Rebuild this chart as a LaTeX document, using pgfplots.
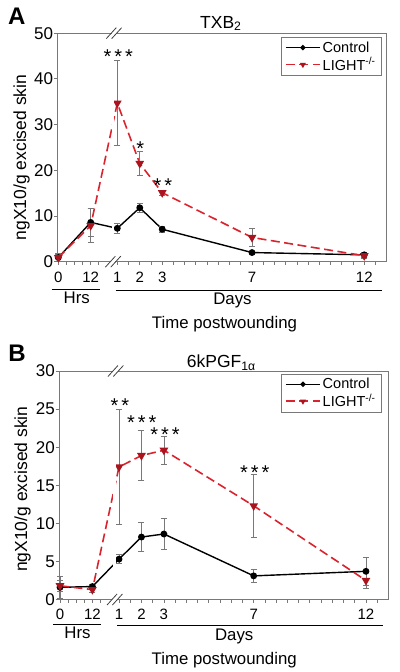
\documentclass[border=0pt]{standalone}
\usepackage{fontspec}
\setmainfont{Liberation Sans}
\usepackage{pgfplots}
\pgfplotsset{compat=1.18}
\definecolor{lred}{RGB}{218,35,45}
\definecolor{dred}{RGB}{170,20,30}
\definecolor{axgray}{RGB}{120,120,120}
\definecolor{ebgray}{RGB}{120,120,120}
\newcommand\fs[1]{\fontsize{#1bp}{#1bp}\selectfont}
\tikzset{slash/.style={black!75, line width=0.8bp}}
\pgfplotsset{
 panel/.style={
  scale only axis, width=329.4bp, height=228.5bp,
  xmin=-1.673, xmax=13.0,
  axis line style={axgray, line width=0.8bp},
  tick style={axgray, line width=0.8bp},
  tick align=outside, xtick pos=bottom, ytick pos=left,
  major tick length=3.5bp, minor tick length=3.5bp,
  xtick={-1.628,-0.185,1,2,3,7,12},
  xticklabels={0,12,1,2,3,7,12},
  minor xtick={-1.267,-0.906,-0.546,0.176,1.5,2.5,3.5,4,4.5,5,5.5,6,6.5,7.5,8,8.5,9,9.5,10,10.5,11,11.5,12.5},
  x tick label style={font=\fs{15}, anchor=base, yshift=-17bp},
  y tick label style={font=\fs{17}, inner xsep=0.5bp},
  /pgf/number format/assume math mode=true,
  clip=false,
  legend style={anchor=north east, draw=axgray, fill=white, line width=0.6bp,
    font=\fs{14.5}, inner xsep=4bp, inner ysep=2bp, row sep=0bp,
    /tikz/every even column/.append style={column sep=5bp}},
  legend cell align=left,
  legend image code/.code={\draw[mark repeat=2,mark phase=2,#1,mark size=1.9bp] plot coordinates {(0bp,0bp) (17bp,0bp) (34bp,0bp)};},
 },
 ctrl/.style={black, line width=1.4bp, mark=*, mark size=2.7bp, mark options={solid, fill=black},
   error bars/.cd, y dir=both, y explicit,
   error bar style={ebgray, line width=0.7bp, solid},
   error mark options={rotate=90, mark size=3bp, ebgray, line width=0.7bp, solid}},
 ko/.style={lred, line width=1.6bp, dash pattern=on 9bp off 4.5bp, mark=triangle*, mark size=3.5bp,
   mark options={solid, rotate=180, fill=dred, draw=dred},
   error bars/.cd, y dir=both, y explicit,
   error bar style={ebgray, line width=0.7bp, solid},
   error mark options={rotate=90, mark size=3bp, ebgray, line width=0.7bp, solid}},
}
\begin{document}
\begin{tikzpicture}
\useasboundingbox (0,0) rectangle (400bp,672bp);
% ---------------- Panel A
\begin{axis}[panel, at={(57.3bp,410.3bp)}, anchor=south west,
  ymin=0, ymax=50, ytick={0,10,20,30,40,50},
  legend style={at={(0.985,0.982)}}]
\addplot[ctrl] coordinates {
 (-1.628,0.9) +- (0,0.8)
 (-0.185,8.6) +- (0,3.0)
 (1,7.3) +- (0,1.1)
 (2,11.8) +- (0,0.95)
 (3,7.1) +- (0,0.6)
 (7,2.0) +- (0,0.3)
 (12,1.5) +- (0,0.6)
};
\addlegendentry{Control}
\addplot[ko] coordinates {
 (-1.628,0.9) +- (0,0.9)
 (-0.185,7.9) +- (0,3.7)
 (1,34.7) +- (0,9.35)
 (2,21.5) +- (0,2.6)
 (3,15.1) +- (0,0.5)
 (7,5.3) +- (0,2.0)
 (12,1.3) +- (0,0.6)
};
\addlegendentry{LIGHT\textsuperscript{-/-}}
\coordinate (Amb) at (axis cs:0.75,0);
\coordinate (Amt) at (axis cs:0.866,50);
\coordinate (Ab) at (axis cs:0.81,0);
\coordinate (At) at (axis cs:0.85,50);
\end{axis}
\fill[white] ([yshift=-1.5bp]Amb) rectangle ([yshift=1.5bp]Amt);
\foreach \c in {Ab,At}{
 \fill[white] ([shift={(-2.4bp,-1.5bp)}]\c) rectangle ([shift={(2.4bp,1.5bp)}]\c);
 \draw[slash] ([shift={(-7.7bp,-5.5bp)}]\c) -- ([shift={(2.3bp,5.5bp)}]\c);
 \draw[slash] ([shift={(-2.3bp,-5.5bp)}]\c) -- ([shift={(7.7bp,5.5bp)}]\c);
}
\node[anchor=base west, font=\fs{24}\bfseries, inner sep=0] at (8bp,647bp) {A};
\node[anchor=base west, font=\fs{17.5}, inner sep=0] at (200bp,643.7bp) {TXB\textsubscript{2}};
\node[rotate=90, font=\fs{17.5}, inner sep=0] at (21.7bp,514.5bp) {ngX10/g excised skin};
\node[anchor=base, font=\fs{20}, inner sep=0] at (118.3bp,608.1bp) {*\hspace{3bp}*\hspace{3bp}*};
\node[anchor=base, font=\fs{20}, inner sep=0] at (140.3bp,516.8bp) {*};
\node[anchor=base, font=\fs{20}, inner sep=0] at (162.8bp,479.1bp) {*\hspace{3bp}*};
\draw[black, line width=0.9bp] (51.7bp,382.6bp) -- (100bp,382.6bp);
\draw[black, line width=0.9bp] (115.5bp,382bp) -- (381.7bp,382bp);
\node[anchor=base, font=\fs{16.8}, inner sep=0] at (76.7bp,368.7bp) {Hrs};
\node[anchor=base, font=\fs{16.8}, inner sep=0] at (232.5bp,367bp) {Days};
\node[anchor=base, font=\fs{16.8}, inner sep=0] at (224.5bp,343.7bp) {Time postwounding};
% ---------------- Panel B
\begin{axis}[panel, at={(59bp,72.5bp)}, anchor=south west,
  ymin=0, ymax=30, ytick={0,5,10,15,20,25,30},
  legend style={at={(0.98,0.987)}}]
\addplot[ctrl] coordinates {
 (-1.628,1.6) +- (0,1.5)
 (-0.185,1.7) +- (0,0.25)
 (1,5.3) +- (0,0.6)
 (2,8.2) +- (0,1.9)
 (3,8.6) +- (0,2.0)
 (7,3.1) +- (0,0.85)
 (12,3.7) +- (0,1.85)
};
\addlegendentry{Control}
\addplot[ko] coordinates {
 (-1.628,1.8) +- (0,0.7)
 (-0.185,1.3) +- (0,0.3)
 (1,17.4) +- (0,7.55)
 (2,18.9) +- (0,3.3)
 (3,19.6) +- (0,1.8)
 (7,12.3) +- (0,4.1)
 (12,2.5) +- (0,1.0)
};
\addlegendentry{LIGHT\textsuperscript{-/-}}
\coordinate (Bmb) at (axis cs:0.75,0);
\coordinate (Bmt) at (axis cs:0.866,30);
\coordinate (Bb) at (axis cs:0.81,0);
\coordinate (Bt) at (axis cs:0.85,30);
\end{axis}
\fill[white] ([yshift=-1.5bp]Bmb) rectangle ([yshift=1.5bp]Bmt);
\foreach \c in {Bb,Bt}{
 \fill[white] ([shift={(-2.4bp,-1.5bp)}]\c) rectangle ([shift={(2.4bp,1.5bp)}]\c);
 \draw[slash] ([shift={(-7.7bp,-5.5bp)}]\c) -- ([shift={(2.3bp,5.5bp)}]\c);
 \draw[slash] ([shift={(-2.3bp,-5.5bp)}]\c) -- ([shift={(7.7bp,5.5bp)}]\c);
}
\node[anchor=base west, font=\fs{24}\bfseries, inner sep=0] at (8.3bp,310.3bp) {B};
\node[anchor=base west, font=\fs{17.5}, inner sep=0] at (186.7bp,304.3bp) {6kPGF\textsubscript{1α}};
\node[rotate=90, font=\fs{17.5}, inner sep=0] at (22.5bp,182.8bp) {ngX10/g excised skin};
\node[anchor=base, font=\fs{20}, inner sep=0] at (120bp,259.1bp) {*\hspace{3bp}*};
\node[anchor=base, font=\fs{20}, inner sep=0] at (141.7bp,242.5bp) {*\hspace{3bp}*\hspace{3bp}*};
\node[anchor=base, font=\fs{20}, inner sep=0] at (165bp,230.8bp) {*\hspace{3bp}*\hspace{3bp}*};
\node[anchor=base, font=\fs{20}, inner sep=0] at (254.7bp,192.5bp) {*\hspace{3bp}*\hspace{3bp}*};
\draw[black, line width=0.9bp] (53.3bp,47.5bp) -- (101bp,47.5bp);
\draw[black, line width=0.9bp] (117.3bp,47bp) -- (382.7bp,47bp);
\node[anchor=base, font=\fs{16.8}, inner sep=0] at (77.5bp,33.7bp) {Hrs};
\node[anchor=base, font=\fs{16.8}, inner sep=0] at (234.2bp,31.3bp) {Days};
\node[anchor=base, font=\fs{16.8}, inner sep=0] at (224.2bp,8bp) {Time postwounding};
\end{tikzpicture}
\end{document}
